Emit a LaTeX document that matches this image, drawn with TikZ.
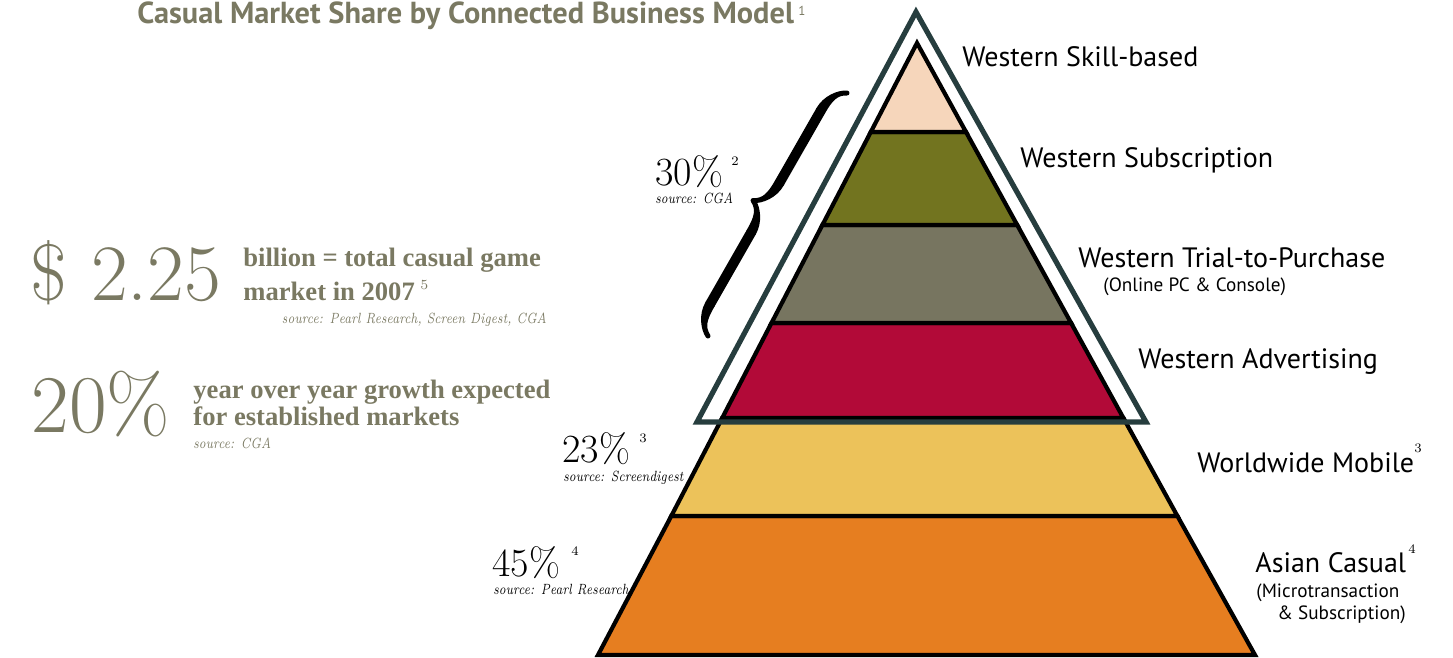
\documentclass[tikz,border=0pt]{standalone}
\usepackage{fontspec}
\usetikzlibrary{decorations.pathreplacing,calligraphy}
\newfontfamily\labfont{PT Sans}
\newfontfamily\boldserif{Liberation Serif}
\definecolor{txtgray}{HTML}{7A7962}
\definecolor{frame}{HTML}{263D3E}
\definecolor{cSkill}{HTML}{F6D6BB}
\definecolor{cSub}{HTML}{72741F}
\definecolor{cTrial}{HTML}{777560}
\definecolor{cAdv}{HTML}{B20A38}
\definecolor{cMob}{HTML}{ECC25A}
\definecolor{cAsia}{HTML}{E67E20}
\tikzset{
  band/.style={draw=black, line width=2.1pt, line join=miter},
  lab/.style={anchor=base west, inner sep=0pt, font=\labfont\fontsize{14}{16}\selectfont},
  sublab/.style={anchor=base west, inner sep=0pt, font=\labfont\fontsize{9.6}{11}\selectfont},
  pct/.style={anchor=base west, inner sep=0pt, font=\fontsize{20}{20}\selectfont},
  src/.style={anchor=base west, inner sep=0pt, xscale=0.78, font=\itshape\fontsize{7.4}{8}\selectfont},
  supnum/.style={anchor=base west, inner sep=0pt, font=\fontsize{6.5}{7}\selectfont},
  big/.style={anchor=base west, inner sep=0pt, text=txtgray, font=\fontsize{40}{40}\selectfont},
  stat/.style={anchor=base west, inner sep=0pt, text=txtgray, font=\boldserif\bfseries\fontsize{13.3}{15}\selectfont},
  gsrc/.style={anchor=base west, inner sep=0pt, text=txtgray, xscale=0.78, font=\itshape\fontsize{7.4}{8}\selectfont}
}
\begin{document}
\begin{tikzpicture}[x=0.5pt,y=-0.5pt]
\useasboundingbox (0,0) rectangle (1453,658);
% pyramid bands
\filldraw[band, fill=cAsia]  (671.3,516) -- (1177.4,516) -- (1255,655) -- (598,655) -- cycle;
\filldraw[band, fill=cMob]  (722.2,418) -- (1123.4,418) -- (1177.4,516) -- (671.3,516) -- cycle;
\filldraw[band, fill=cAdv]  (771.5,323) -- (1071.1,323) -- (1123.4,418) -- (722.2,418) -- cycle;
\filldraw[band, fill=cTrial] (822.4,225) -- (1017.2,225) -- (1071.1,323) -- (771.5,323) -- cycle;
\filldraw[band, fill=cSub]  (870.8,132) -- (966.0,132) -- (1017.2,225) -- (822.4,225) -- cycle;
\filldraw[band, fill=cSkill] (917,43) -- (966.0,132) -- (870.8,132) -- cycle;
% frame
\draw[frame, line width=2.6pt, line join=miter] (916,12) -- (1146,422) -- (697,422) -- cycle;
% brace
\coordinate (braceA) at (708,336);
\coordinate (braceB) at (847,93);
\draw[decorate, decoration={calligraphic brace, amplitude=14pt}, line width=5pt] (braceA) -- (braceB);
% title
\node[anchor=base west, inner sep=0pt, text=txtgray, font=\labfont\bfseries\fontsize{15.2}{17}\selectfont] (title) at (137,24) {Casual Market Share by Connected Business Model};
\node[anchor=base west, inner sep=0pt, text=txtgray, font=\labfont\fontsize{6.5}{7}\selectfont] (titlesup) at (798,16) {1};
% right labels
\node[lab] (l1) at (962,67) {Western Skill-based};
\node[lab] (l2) at (1020,168) {Western Subscription};
\node[lab] (l3) at (1078,268) {Western Trial-to-Purchase};
\node[sublab] (l3b) at (1103,292) {(Online PC \& Console)};
\node[lab] (l4) at (1138,368) {Western Advertising};
\node[lab] (l5) at (1197,472) {Worldwide Mobile};
\node[supnum] (l5s) at (1414,452) {3};
\node[lab] (l6) at (1255,572) {Asian Casual};
\node[supnum] (l6s) at (1408,553) {4};
\node[sublab] (l6b) at (1256,597) {(Microtransaction};
\node[sublab] (l6c) at (1277,619) {\& Subscription)};
% percentages
\node[pct] (p30) at (655,185) {30\%};
\node[supnum] (p30s) at (731,166) {2};
\node[src] (s30) at (655,204) {source: CGA};
\node[pct] (p23) at (562,462) {23\%};
\node[supnum] (p23s) at (639,442) {3};
\node[src] (s23) at (563,481) {source: Screendigest};
\node[pct] (p45) at (492,576) {45\%};
\node[supnum] (p45s) at (571,555) {4};
\node[src] (s45) at (493,594) {source: Pearl Research};
% left stats
\node[big] (money) at (30,300) {\$ 2.25};
\node[stat] (st1) at (243,267) {billion = total casual game};
\node[stat] (st2) at (243,300) {market in 2007};
\node[anchor=base west, inner sep=0pt, text=txtgray, font=\fontsize{7}{8}\selectfont] (st2s) at (420,289) {5};
\node[gsrc, anchor=base east] (st3) at (547,323) {source: Pearl Research, Screen Digest, CGA};
\node[big, font=\fontsize{41}{41}\selectfont] (growth) at (31,432) {20\%};
\node[stat] (gr1) at (193,398) {year over year growth expected};
\node[stat] (gr2) at (193,425) {for established markets};
\node[gsrc] (gr3) at (193,448) {source: CGA};
\end{tikzpicture}
\end{document}
